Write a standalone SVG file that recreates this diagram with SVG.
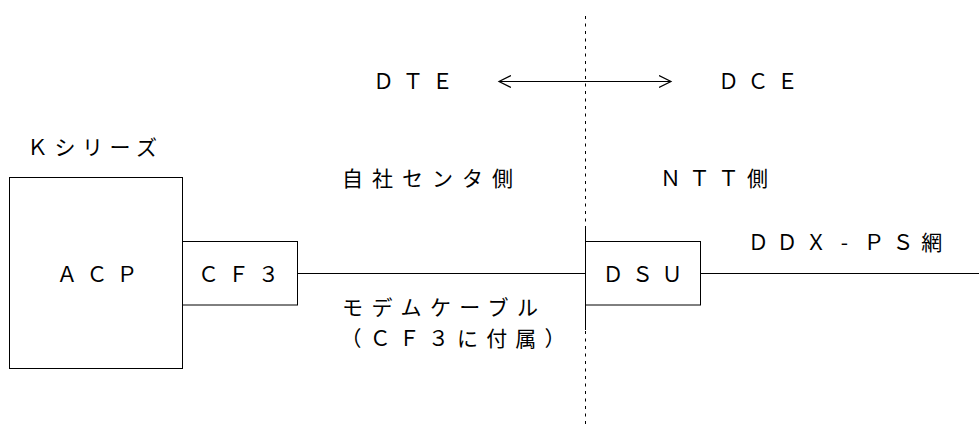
<svg xmlns="http://www.w3.org/2000/svg" width="979" height="428" viewBox="0 0 979 428">
<style>
.t{font-family:"Noto Sans CJK JP","Noto Sans",sans-serif;font-size:21px;fill:#000}
.m{text-anchor:middle}
.b{fill:#fff;stroke:#000;stroke-width:1}
.l{fill:none;stroke:#000;stroke-width:1}
</style>
<defs>
<marker id="ah" viewBox="0 0 14 14" refX="12" refY="7" markerWidth="14" markerHeight="14" markerUnits="userSpaceOnUse" orient="auto-start-reverse">
<path d="M0,1 L12,7 L0,13" fill="none" stroke="#000" stroke-width="1.2"/>
</marker>
</defs>
<rect width="979" height="428" fill="#fff"/>
<g id="connectors">
<line class="l" x1="297.5" y1="273.5" x2="585.5" y2="273.5"/>
<line class="l" x1="700.5" y1="273.5" x2="979" y2="273.5"/>
<line class="l" x1="585.5" y1="16" x2="585.5" y2="426" stroke-dasharray="3 4.5"/>
<line class="l" x1="585.5" y1="229" x2="585.5" y2="330"/>
<line class="l" x1="499" y1="81.5" x2="671" y2="81.5" marker-start="url(#ah)" marker-end="url(#ah)"/>
</g>
<g id="labels">
<text class="t" x="373" y="89" textLength="80" lengthAdjust="spacing">ＤＴＥ</text>
<text class="t" x="718" y="89" textLength="80" lengthAdjust="spacing">ＤＣＥ</text>
<text class="t" x="27" y="155" textLength="130" lengthAdjust="spacing">Ｋシリーズ</text>
<text class="t" x="342" y="186" textLength="171" lengthAdjust="spacing">自社センタ側</text>
<text class="t" x="660" y="186" textLength="108" lengthAdjust="spacing">ＮＴＴ側</text>
<text class="t m" x="758.3 787 816 844.5 874 903 931.7" y="250">ＤＤＸ-ＰＳ網</text>
<text class="t" x="342" y="315" textLength="196" lengthAdjust="spacing">モデムケーブル</text>
<text class="t" x="340.5" y="346" textLength="225" lengthAdjust="spacing">（ＣＦ３に付属）</text>
</g>
<g id="ACP">
<rect class="b" x="9.5" y="177.5" width="173" height="191"/>
<text class="t" x="56.5" y="282" textLength="81" lengthAdjust="spacing">ＡＣＰ</text>
</g>
<g id="CF3">
<rect class="b" x="182.5" y="241.5" width="115" height="63.5"/>
<text class="t" x="198" y="282" textLength="81" lengthAdjust="spacing">ＣＦ３</text>
</g>
<g id="DSU">
<rect class="b" x="585.5" y="241.5" width="115" height="63.5"/>
<text class="t" x="602.5" y="282" textLength="80" lengthAdjust="spacing">ＤＳＵ</text>
</g>
</svg>
